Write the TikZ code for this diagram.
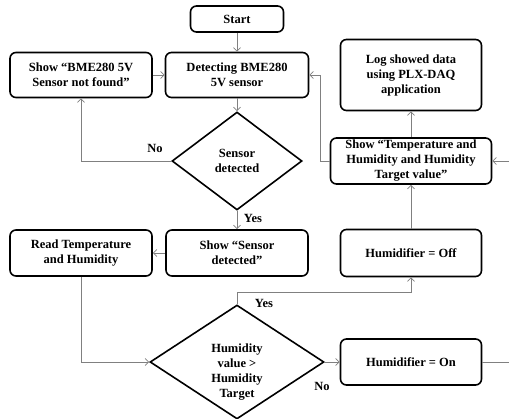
\documentclass[tikz,border=0pt]{standalone}
\usepackage{fontspec}
\setmainfont{Liberation Serif}
\usetikzlibrary{shapes.geometric,arrows.meta}

\begin{document}
\begin{tikzpicture}[x=1pt, y=-1pt,
  txt/.style={font=\bfseries\fontsize{12.5}{15}\selectfont},
  proc/.style={txt, draw=black, line width=1.6pt, rounded corners=6pt,
    align=center, inner sep=0pt, minimum width=142pt, minimum height=46pt},
  decide/.style={txt, draw=black, line width=1.6pt, diamond, align=center, inner sep=0pt},
  flow/.style={draw=black!50, line width=0.8pt, -{Straight Barb[length=3.5pt,width=7pt]}},
  wire/.style={draw=black!50, line width=0.8pt}]
\useasboundingbox (0,0) rectangle (509,418);
% left column
\node[proc, minimum width=93pt, minimum height=26pt] (start) at (237,19){Start};
\node[proc, minimum width=143pt, minimum height=45pt] (detect) at (237,75){Detecting BME280\\5V sensor};
\node[proc, minimum height=45pt] (nofound) at (81,75){Show “BME280 5V\\Sensor not found”};
\node[decide, minimum width=130pt, minimum height=98pt] (senschk) at (237,161){Sensor\\detected};
\node[proc] (sensok) at (237,253){Show “Sensor\\detected”};
\node[proc] (readth) at (81,253){Read Temperature\\and Humidity};
\node[decide, minimum width=174pt, minimum height=114pt] (humchk) at (237,362){};
\node[txt, align=center] (humtxt) at (237,372){Humidity\\value >\\Humidity\\Target};
% right column
\node[proc, minimum width=141pt, minimum height=71pt] (logdata) at (411,75){Log showed data\\using PLX-DAQ\\application};
\node[proc, minimum width=161pt] (showtv) at (411,161){Show “Temperature and\\Humidity and  Humidity\\Target value”};
\node[proc, minimum width=141pt, minimum height=47pt] (humoff) at (411,253){Humidifier = Off};
\node[proc, minimum width=141pt] (humon) at (411,362){Humidifier = On};
% labels
\node[txt] (lblno1) at (155,148){No};
\node[txt] (lblyes1) at (253,218){Yes};
\node[txt] (lblyes2) at (264,303){Yes};
\node[txt] (lblno2) at (322,386){No};
% bends
\coordinate (yesbend) at (237,292);
\coordinate (rightrail) at (522,362);
\coordinate (leftrail) at (320,161);
% connectors
\draw[flow] (start) -- (detect);
\draw[flow] (detect) -- (senschk);
\draw[flow] (senschk.west) -| (nofound.south);
\draw[flow] (nofound) -- (detect);
\draw[flow] (senschk.south) -- (sensok.north);
\draw[flow] (sensok) -- (readth);
\draw[flow] (readth.south) |- (humchk.west);
\draw[flow] (humchk.north) -- (yesbend) -| (humoff.south);
\draw[flow] (humchk.east) -- (humon.west);
\draw[flow] (humon.east) -- (rightrail) |- (showtv.east);
\draw[flow] (humoff) -- (showtv);
\draw[flow] (showtv) -- (logdata);
\draw[flow] (showtv.west) -- (leftrail) |- (detect.east);
\end{tikzpicture}
\end{document}
